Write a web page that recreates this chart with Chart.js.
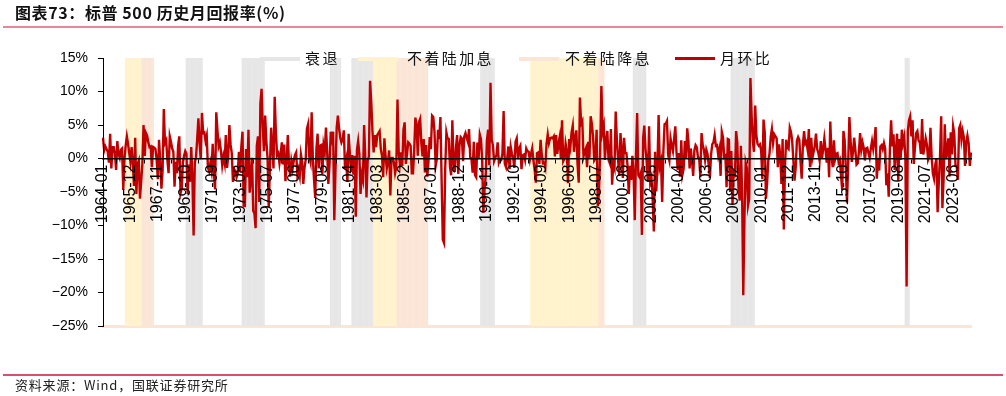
<!DOCTYPE html>
<html>
<head>
<meta charset="utf-8">
<script src="https://cdn.jsdelivr.net/npm/chart.js@4.4.1/dist/chart.umd.min.js"></script>
<style>
  body { margin: 0; background: #fff; }
  #wrap { position: relative; width: 1006px; height: 396px; overflow: hidden; font-family: "Noto Sans CJK SC", sans-serif; }
  #chart { position: absolute; left: 0; top: 0; }
  .title { position: absolute; left: 15px; top: 0px; font-size: 16px; line-height: 24px; font-weight: bold; color: #111; letter-spacing: 0.6px; }
  .rule-top { position: absolute; left: 3px; right: 3px; top: 26px; height: 2px; background: #e8879c; }
  .rule-bot { position: absolute; left: 3px; right: 3px; top: 374px; height: 2px; background: #d94f70; }
  .source { position: absolute; left: 15px; top: 376px; font-size: 13px; line-height: 18px; color: #222; letter-spacing: 0.8px; }
  .lg-box { position: absolute; top: 57px; height: 4px; }
  .lg-line { position: absolute; top: 57px; height: 3px; background: #c00000; }
  .lg-text { position: absolute; top: 48px; font-size: 15px; line-height: 20px; color: #111; letter-spacing: 2.4px; white-space: nowrap; }
</style>
</head>
<body>
<div id="wrap">
  <canvas id="chart" width="1006" height="396"></canvas>
  <div class="title">图表73：标普 500 历史月回报率(%)</div>
  <div class="rule-top"></div>
  <div class="lg-box" style="left:260px;width:40px;background:#e6e6e6"></div>
  <div class="lg-text" style="left:305px">衰退</div>
  <div class="lg-box" style="left:358px;width:40px;background:#fff2cc"></div>
  <div class="lg-text" style="left:407px">不着陆加息</div>
  <div class="lg-box" style="left:519px;width:40px;background:#fbe5d6"></div>
  <div class="lg-text" style="left:565px">不着陆降息</div>
  <div class="lg-line" style="left:675px;width:40px"></div>
  <div class="lg-text" style="left:720px">月环比</div>
  <div class="rule-bot"></div>
  <div class="source">资料来源：Wind，国联证券研究所</div>
</div>
<script>
// first month of the series
const startYear = 1964;
const startMonth = 1;

// month-over-month change, %
const monthlyReturn = [
  3.1, 1.2, 1.8, 1.4, 1.0, -0.6, 3.7, -1.5, 1.7, 1.7, 0.7, -1.7,      // 1964
  2.6, 0.7, 0.1, 1.3, 1.5, -4.7, -0.2, 1.9, 3.3, 2.2, 0.8, -0.5,      // 1965
  1.7, -0.7, -4.1, 3.1, -5.3, -0.8, -0.3, -6.0, -3.5, -0.9, 5.0, 0.4, // 1966
  3.8, 3.4, 2.4, 1.7, 1.8, -1.3, 1.7, 1.6, 1.4, -0.2, -3.1, 2.8,      // 1967
  -0.3, -4.5, -1.8, 7.4, 2.3, 2.7, -0.2, -2.2, 3.3, 2.5, 1.5, 1.0,    // 1968
  -4.2, -0.5, -2.2, 2.0, 3.3, -5.2, -4.5, -0.6, 0.4, 1.1, 0.7, -5.3,  // 1969
  -0.9, -3.5, 1.7, -3.0, -11.5, -0.6, 0.2, 2.9, 6.0, 2.2, -0.1, 6.8,  // 1970
  3.8, 3.9, 2.6, 3.4, -1.4, -1.9, -0.7, -1.8, 2.2, -2.1, -4.6, 6.9,   // 1971
  4.2, 1.8, 2.4, 1.0, -1.0, 0.3, -0.7, 3.5, -1.4, 0.2, 5.0, 2.1,      // 1972
  0.8, -3.5, -1.6, -1.9, -2.8, -2.2, 1.0, -1.9, 1.7, 4.0, -7.1, -7.1, // 1973
  1.4, -2.8, 4.3, -5.1, -3.0, 0.1, -7.8, -8.2, -10.4, 1.9, 3.3, -6.5, // 1974
  8.2, 10.4, 4.6, 1.1, 6.4, 2.6, 0.1, -7.3, -1.2, 4.6, 1.7, -1.5,     // 1975
  9.2, 3.9, 0.5, 0.8, -0.7, 0.6, 2.4, -0.9, 2.1, -3.4, -0.7, 3.5,     // 1976
  -0.9, -2.7, -0.4, -1.5, -0.3, 0.5, 0.9, -2.4, -1.6, -2.6, 0.6, -0.5, // 1977
  -3.8, -1.4, -0.2, 4.4, 5.1, 0.3, -0.5, 6.9, 0.0, -3.2, -5.9, 1.5,   // 1978
  3.7, -1.5, 1.9, 2.0, -2.3, 2.0, 1.0, 4.6, 1.1, -3.8, -0.8, 4.0,     // 1979
  2.9, 4.0, -9.2, -1.6, 4.6, 6.4, 4.5, 3.1, 2.4, 2.9, 4.2, -1.6,      // 1980
  -0.4, -3.5, 3.7, 0.9, -2.0, 0.5, -2.4, 0.4, -8.7, 1.3, 2.6, 0.7,    // 1981
  -5.3, -2.4, -3.2, 5.0, 0.1, -5.8, -0.3, 0.3, 11.6, 8.4, 4.1, 0.9,   // 1982
  3.5, 1.7, 3.5, 3.8, 4.1, 1.4, 0.4, -2.8, 3.0, 0.3, -1.5, -0.5,      // 1983
  1.2, -5.5, 0.1, 0.1, -0.6, -2.2, -1.3, 8.8, 1.0, -0.8, 0.9, -1.1,   // 1984
  4.3, 5.4, -0.8, 0.7, 2.4, 2.2, 1.9, -2.2, -2.2, 1.1, 6.1, 5.0,      // 1985
  0.4, 5.4, 5.9, 2.3, 0.3, 2.9, -2.1, 2.0, -2.7, -0.4, 3.2, 1.4,      // 1986
  6.4, 6.2, 4.1, -1.1, -0.1, 4.3, 2.9, 6.2, -3.2, -12.1, -12.6, -1.6, // 1987
  3.9, 3.0, 2.9, -1.2, -2.5, 5.7, -0.6, -2.0, 1.6, 3.5, -2.3, 2.0,    // 1988
  3.2, 3.0, -0.4, 3.3, 3.8, 3.1, 2.5, 4.4, 0.2, 0.0, -2.1, 2.5,       // 1989
  -2.5, -2.8, 2.4, -0.1, 3.6, 2.9, -0.1, -8.1, -4.6, -2.6, 2.7, 4.3,  // 1990
  -1.0, 11.3, 2.8, 2.0, -0.4, 0.1, 0.5, 2.4, -0.6, -0.1, -0.2, 0.7,   // 1991
  7.1, -0.8, -1.3, 0.0, 1.8, -1.6, 1.7, 0.7, 0.1, -1.4, 2.5, 3.0,     // 1992
  -0.1, 1.5, 1.9, -1.6, 0.5, 0.6, -0.2, 1.5, 1.1, 1.0, -0.2, 0.7,     // 1993
  1.5, -0.3, -1.6, -3.6, 0.8, 0.9, -0.8, 2.8, 0.6, -0.7, -0.6, -1.3,  // 1994
  2.2, 3.6, 2.3, 3.0, 3.1, 3.0, 3.3, 0.3, 3.5, 0.7, 2.2, 3.2,         // 1995
  0.0, 5.7, -0.4, 0.0, 2.2, 1.1, -3.7, 2.9, 1.8, 3.9, 4.9, 1.0,       // 1996
  3.1, 4.2, -0.8, -3.6, 9.1, 5.2, 5.6, 0.3, 1.0, 1.5, -1.3, 2.5,      // 1997
  0.1, 6.3, 5.2, 3.3, -0.3, 0.0, 4.3, -7.1, -5.0, 1.2, 10.8, 4.0,     // 1998
  4.9, -0.2, 2.8, 4.1, -0.2, -0.7, 4.4, -3.9, -0.7, -1.4, 7.0, 2.7,   // 1999
  -0.2, -2.6, 3.8, 1.3, -2.9, 3.1, 0.8, 0.8, -1.2, -5.3, -1.1, -3.2,  // 2000
  0.4, -2.2, -9.2, 0.3, 6.8, -2.5, -2.8, -2.2, -11.4, 3.1, 4.9, 1.4,  // 2001
  -0.4, -3.5, 4.8, -3.6, -2.9, -6.0, -10.9, 1.0, -4.9, -1.5, 6.5, -1.2, // 2002
  -0.4, -6.5, 1.1, 5.1, 5.2, 5.6, 0.5, -0.3, 3.0, 1.9, 1.1, 2.9,      // 2003
  4.8, 1.0, -1.7, 0.8, -2.7, 2.7, -2.4, -1.5, 2.6, 0.0, 4.5, 2.6,     // 2004
  -1.5, 1.5, -0.4, -2.6, 1.2, 2.0, 1.7, 0.2, 0.1, -2.8, 3.8, 2.0,     // 2005
  1.3, -0.2, 1.3, 0.7, -0.9, -2.9, 0.6, 2.1, 2.4, 3.5, 1.9, 2.0,      // 2006
  0.5, 1.4, -2.6, 4.0, 3.2, 0.2, 0.4, -4.3, 2.9, 2.8, -5.0, 1.1,      // 2007
  -6.8, -1.7, -2.8, 4.1, 2.4, -4.4, -6.3, 1.9, -5.0, -20.4, -8.9, -0.6, // 2008
  -1.4, -7.0, -6.0, 12.0, 6.4, 2.6, 1.0, 7.9, 3.4, 2.2, 1.9, 2.1,     // 2009
  1.2, -3.1, 5.8, 3.9, -6.0, -3.7, -0.3, 0.7, 3.2, 4.4, 2.3, 3.6,     // 2010
  3.3, 3.0, -1.3, 2.1, 0.5, -3.8, 2.9, -10.6, -1.0, 2.8, 1.6, 1.4,    // 2011
  4.6, 4.0, 2.7, -0.2, -3.3, -1.3, 2.7, 3.2, 2.8, -0.4, -3.0, 2.0,    // 2012
  4.1, 2.2, 2.5, 1.3, 4.4, -1.3, 3.1, 0.1, 1.0, 1.9, 3.7, 1.4,        // 2013
  0.8, -0.3, 2.6, 0.0, 1.4, 3.0, 1.3, -0.6, 1.6, -2.8, 5.5, 0.5,      // 2014
  -1.3, 2.7, -0.1, 0.7, 0.8, -0.6, -0.2, -2.6, -4.7, 4.1, 2.8, -1.3,  // 2015
  -6.6, -0.7, 6.2, 2.7, -0.5, 0.9, 3.1, 1.3, -0.9, -0.7, 1.0, 3.8,    // 2016
  1.3, 2.4, 1.6, -0.3, 1.5, 1.6, 0.8, 0.1, 1.5, 2.6, 1.4, 2.7,        // 2017
  4.7, -3.0, -0.1, -1.8, 1.8, 2.0, 1.4, 2.3, 1.5, -4.0, -2.2, -5.7,   // 2018
  1.6, 5.7, 1.8, 3.6, -1.7, 1.2, 3.7, -3.3, 2.9, -0.2, 4.3, 2.3,      // 2019
  3.2, 0.0, -19.1, 4.1, 5.7, 6.3, 3.3, 5.7, -0.8, 1.6, 3.8, 4.1,      // 2020
  2.7, 2.4, 0.7, 5.9, 0.6, 1.7, 3.0, 2.1, -0.2, 0.3, 4.6, 0.2,        // 2021
  -2.2, -3.0, -1.0, 0.0, -8.0, -3.5, 0.3, 6.3, -7.4, -3.2, 5.1, -0.1, // 2022
  1.2, 3.0, -2.7, 3.9, 0.6, 4.8, 3.7, -1.1, -1.1, -3.2, 4.5, 5.0,     // 2023
  2.8, 4.1, 3.2, -1.1, 2.4, 3.4, 2.3, -1.1, 0.9                       // 2024
];

// labels shown on the x axis
const tickLabels = [
  '1964-01', '1965-12', '1967-11', '1969-10', '1971-09', '1973-08', '1975-07', '1977-06',
  '1979-05', '1981-04', '1983-03', '1985-02', '1987-01', '1988-12', '1990-11', '1992-10',
  '1994-09', '1996-08', '1998-07', '2000-06', '2002-05', '2004-04', '2006-03', '2008-02',
  '2010-01', '2011-12', '2013-11', '2015-10', '2017-09', '2019-08', '2021-07', '2023-06'
];

// shaded periods, first and last month
const recessionRanges = [
  ['1969-11', '1970-12'], ['1973-10', '1975-04'], ['1979-12', '1980-08'], ['1981-06', '1982-11'],
  ['1990-06', '1991-05'], ['2001-02', '2001-12'], ['2007-12', '2009-07'], ['2020-02', '2020-05']
];
const hikeRanges = [['1965-08', '1966-09'], ['1982-12', '1984-07'], ['1993-12', '1998-08']];
const cutRanges = [['1966-10', '1967-07'], ['1984-08', '1986-09'], ['1998-09', '1999-01']];

const months = [];
for (let i = 0; i < monthlyReturn.length; i++) {
    const k = startMonth - 1 + i;
    months.push((startYear + Math.floor(k / 12)) + '-' + String(k % 12 + 1).padStart(2, '0'));
}

function bandData(ranges) {
    return months.map(mo => ranges.some(r => mo >= r[0] && mo <= r[1]) ? [-25, 15] : null);
}

function band(label, ranges, color, order) {
    return {
        type: 'bar',
        label: label,
        data: bandData(ranges),
        backgroundColor: color,
        borderWidth: 0,
        grouped: false,
        barPercentage: 1.3,
        categoryPercentage: 1,
        order: order
    };
}

const axisFont = { family: '"Liberation Sans", Arial, sans-serif', size: 14 };

new Chart(document.getElementById('chart'), {
    type: 'bar',
    data: {
        labels: months,
        datasets: [
            {
                type: 'line',
                label: '月环比',
                data: monthlyReturn,
                borderColor: '#c00000',
                borderWidth: 2.4,
                pointRadius: 0,
                tension: 0,
                order: 0
            },
            band('衰退', recessionRanges, '#e6e6e6', 3),
            band('不着陆加息', hikeRanges, '#fff2cc', 2),
            band('不着陆降息', cutRanges, '#fbe5d6', 1)
        ]
    },
    options: {
        responsive: false,
        animation: false,
        layout: { padding: { top: 58, bottom: 70, left: 0, right: 35 } },
        plugins: { legend: { display: false }, tooltip: { enabled: false } },
        scales: {
            x: {
                type: 'category',
                position: { y: 0 },
                offset: false,
                grid: { drawOnChartArea: false, tickLength: 4, color: '#000', z: 1 },
                border: { color: '#000', width: 1.5, z: 1 },
                ticks: {
                    autoSkip: false,
                    minRotation: 90,
                    maxRotation: 90,
                    padding: 2,
                    color: '#000',
                    z: 1,
                    font: { family: axisFont.family, size: 16 },
                    callback: function (v, i) {
                        return tickLabels.includes(months[i]) ? months[i] : null;
                    }
                }
            },
            x2: {
                type: 'category',
                labels: months,
                position: 'bottom',
                offset: false,
                grid: { display: false },
                ticks: { display: false },
                border: { display: true, color: '#fbe5d6', width: 3 },
                afterFit: function (s) { s.height = 0; }
            },
            y: {
                min: -25,
                max: 15,
                grid: { drawOnChartArea: false, tickLength: 5, color: '#000', z: 1 },
                border: { color: '#000', width: 1, z: 1 },
                ticks: {
                    stepSize: 5,
                    padding: 10,
                    color: '#000',
                    z: 1,
                    font: axisFont,
                    callback: v => (v < 0 ? '−' : '') + Math.abs(v) + '%'
                },
                afterFit: function (s) { s.width = 103; }
            }
        }
    }
});
</script>
</body>
</html>
